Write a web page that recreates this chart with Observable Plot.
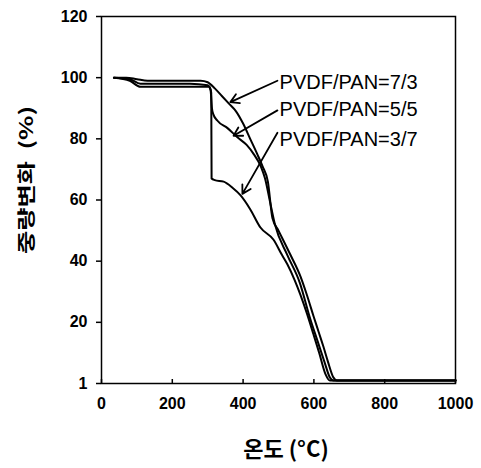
<!DOCTYPE html>
<html><head><meta charset="utf-8">
<script src="https://cdn.jsdelivr.net/npm/d3@7"></script>
<script src="https://cdn.jsdelivr.net/npm/@observablehq/plot@0.6"></script>
<style>
body{margin:0;background:#fff;}
svg text{fill:#000;}
</style>
</head><body><div id="chart"></div>
<script>
const series73 = [[35,100],[70,100],[100,99.5],[130,99],[200,99],[280,99],[300,98.5],[320,96.5],[340,94],[360,91.5],[380,89],[400,85],[420,80],[440,75],[455,71],[470,66],[483,54],[500,50],[534,42],[562,35],[580,29],[599,22],[613,17],[627,12],[640,7],[655,2],[665,1],[700,1],[1000,1]];
const series55 = [[35,100],[80,99.5],[110,98],[150,98],[250,98],[300,97.5],[308,96],[312,90],[316,88],[327,86],[356,83.5],[384,80.5],[410,78],[430,75],[450,71],[462,67],[475,60],[490,52],[525,42],[560,33],[590,21],[610,14],[630,7],[645,2],[655,1],[1000,1]];
const series37 = [[35,100],[80,99],[110,97],[150,97],[250,97],[305,97],[310,95],[311,67],[320,66.5],[345,66],[370,64],[393,61.5],[420,57],[449,51],[486,47],[510,42],[525,39],[545,34],[562,29],[580,23],[599,16],[615,10],[633,3],[645,1],[1000,1]];
const seriesNames = ["PVDF/PAN=7/3","PVDF/PAN=5/5","PVDF/PAN=3/7"];
const labelX = [503,503,503];
const labelY = [98.4,89.6,79.8];
const arrowFrom = [[497,99],[497,89.3],[497,82]];
const arrowTo = [[364,92],[373,81],[398,62]];
const xTicks = [0,200,400,600,800,1000];
const xTickLabels = ["0","200","400","600","800","1000"];
const yTicks = [0,20,40,60,80,100,120];
const yTickLabels = ["1","20","40","60","80","100","120"];

const lines = [series73, series55, series37].flatMap((s,i)=>s.map(([x,y])=>({x,y,name:seriesNames[i]})));
const labels = seriesNames.map((n,i)=>({n,x:labelX[i],y:labelY[i]}));
const arrows = arrowFrom.map((f,i)=>({x1:f[0],y1:f[1],x2:arrowTo[i][0],y2:arrowTo[i][1]}));

const plot = Plot.plot({
  width:481, height:468,
  marginLeft:101, marginRight:26, marginTop:16, marginBottom:85,
  style:{fontFamily:"Liberation Sans, Arial, sans-serif", background:"#fff", color:"#000"},
  x:{domain:[0,1000], ticks:xTicks, label:null},
  y:{domain:[0,120], ticks:yTicks, label:null},
  marks:[
    Plot.frame({stroke:"#000", strokeWidth:1.5}),
    Plot.axisX({ticks:xTicks, tickSize:-4, tickPadding:18, fontSize:16, fontWeight:"bold", label:null, tickFormat:d=>xTickLabels[xTicks.indexOf(d)], stroke:"#000", strokeWidth:1.5}),
    Plot.axisY({ticks:yTicks, tickSize:5, tickPadding:9, fontSize:16, fontWeight:"bold", label:null, tickFormat:d=>yTickLabels[yTicks.indexOf(d)], stroke:"#000", strokeWidth:1.5}),
    Plot.line(lines,{x:"x", y:"y", z:"name", stroke:"#000", strokeWidth:2, curve:"monotone-x"}),
    Plot.arrow(arrows,{x1:"x1",y1:"y1",x2:"x2",y2:"y2", stroke:"#000", strokeWidth:1.8, headLength:8}),
    Plot.text(labels,{x:"x", y:"y", text:"n", textAnchor:"start", fontSize:20, fill:"#000"})
  ]
});
document.getElementById("chart").appendChild(plot);

const svg = d3.select(plot);
svg.append("text")
  .attr("transform","translate(33,180) rotate(-90) scale(1.15,0.85)")
  .attr("text-anchor","middle")
  .attr("font-family","Noto Sans CJK KR, sans-serif")
  .attr("font-size",22).attr("font-weight","bold")
  .attr("fill","#000")
  .attr("xml:space","preserve")
  .text("중량변화  (%)");
svg.append("text")
  .attr("x",286).attr("y",457)
  .attr("text-anchor","middle")
  .attr("font-family","Noto Sans CJK KR, sans-serif")
  .attr("font-size",22).attr("font-weight","bold")
  .attr("fill","#000")
  .text("온도 (°C)");
</script>
</body></html>
